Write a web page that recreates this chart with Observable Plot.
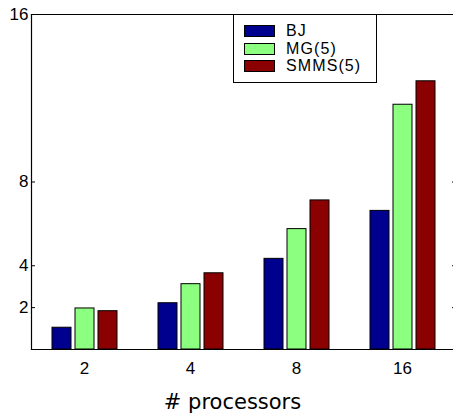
<!DOCTYPE html>
<html><head><meta charset="utf-8">
<script src="https://cdn.jsdelivr.net/npm/d3@7"></script>
<script src="https://cdn.jsdelivr.net/npm/@observablehq/plot@0.6"></script>
<style>
body{margin:0;background:#fff;}
#wrap{position:relative;width:453px;height:416px;overflow:hidden;}
#legend{position:absolute;left:233px;top:14px;width:144px;height:69px;border:1px solid #000;background:#fff;box-sizing:border-box;font-family:"Liberation Sans",Arial,sans-serif;font-size:16px;letter-spacing:1.1px;color:#000;}
.row{position:absolute;left:10px;height:15px;line-height:15px;display:flex;align-items:center;white-space:nowrap;}
.sw{width:31px;height:12px;border:1px solid #000;box-sizing:border-box;margin-right:11px;}
</style>
</head><body>
<div id="wrap"></div>
<script>
const groups = ["2", "4", "8", "16"];
const series = ["BJ", "MG(5)", "SMMS(5)"];
const bj = [1.04, 2.21, 4.33, 6.62];
const mg = [1.96, 3.12, 5.75, 11.69];
const smms = [1.83, 3.64, 7.12, 12.81];
const colors = ["#00008f", "#8cff80", "#8b0000"];
const yTicks = [2, 4, 8, 16];
const xLabel = "# processors";

const values = [bj, mg, smms];
const data = groups.flatMap((g, i) => series.map((s, j) => ({g, s, v: values[j][i]})));

const chart = Plot.plot({
  width: 453, height: 416,
  marginLeft: 30, marginRight: -2, marginTop: 14, marginBottom: 67,
  style: {fontFamily: "Liberation Sans, Arial, sans-serif", fontSize: "17px", color: "#000", background: "#fff", overflow: "visible"},
  fx: {domain: groups, padding: 0, label: null, axis: null},
  x: {domain: series, paddingInner: 0.19, paddingOuter: 0.81, axis: null},
  y: {domain: [0, 16], ticks: yTicks, label: null},
  color: {domain: series, range: colors},
  marks: [
    Plot.barY(data, {fx: "g", x: "s", y: "v", fill: "s", stroke: "#000", strokeWidth: 1}),
    Plot.axisY({ticks: yTicks, tickSize: -4, tickPadding: 7, label: null, tickFormat: d => d, stroke: "#000"}),
    Plot.axisY({anchor: "right", ticks: yTicks, tickSize: -4, tickFormat: () => "", label: null, stroke: "#000"}),
    Plot.axisFx({anchor: "bottom", tickSize: 0, tickPadding: 12, label: null}),
    Plot.frame({anchor: "left", facetAnchor: "left", stroke: "#000", strokeWidth: 1.2}),
    Plot.frame({anchor: "top", stroke: "#000", strokeWidth: 1.2}),
    Plot.frame({anchor: "bottom", stroke: "#000", strokeWidth: 1.2}),
    Plot.text([xLabel], {text: d => d, frameAnchor: "bottom", facet: "super", dy: 59, dx: -11, fontSize: 21, fontFamily: "DejaVu Sans, sans-serif", fill: "#000"})
  ]
});
document.getElementById("wrap").appendChild(chart);

const legend = document.createElement("div");
legend.id = "legend";
const tops = [8, 26, 43];
series.forEach((s, j) => {
  const row = document.createElement("div");
  row.className = "row";
  row.style.top = tops[j] + "px";
  const sw = document.createElement("span");
  sw.className = "sw";
  sw.style.background = colors[j];
  const t = document.createElement("span");
  t.textContent = s;
  row.appendChild(sw); row.appendChild(t);
  legend.appendChild(row);
});
document.getElementById("wrap").appendChild(legend);
</script>
</body></html>
